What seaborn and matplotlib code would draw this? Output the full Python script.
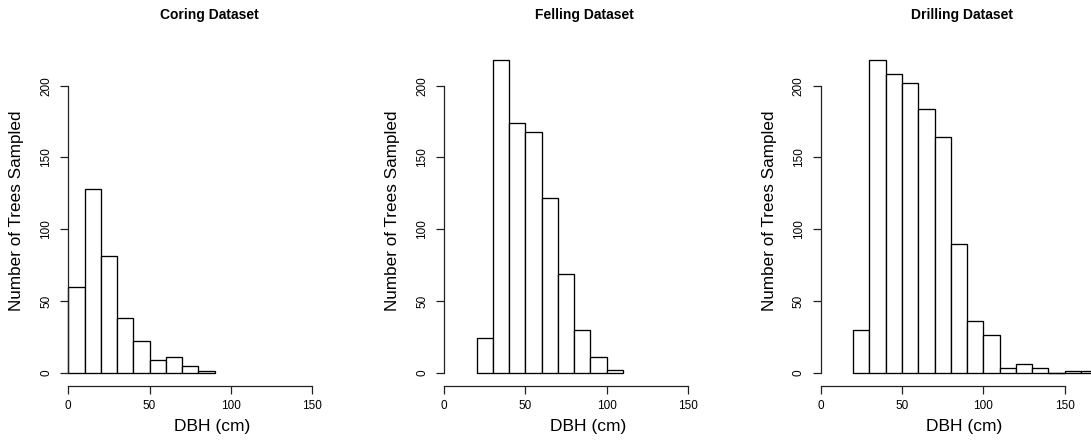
import numpy as np
import pandas as pd
import matplotlib
matplotlib.use("Agg")
import matplotlib.pyplot as plt
import seaborn as sns

# ---- data ----
BIN_WIDTH = 10
titles = ["Coring Dataset", "Felling Dataset", "Drilling Dataset"]

coring_left = [0, 10, 20, 30, 40, 50, 60, 70, 80]
coring_counts = [60, 128, 81, 38, 22, 9, 11, 5, 1]

felling_left = [20, 30, 40, 50, 60, 70, 80, 90, 100]
felling_counts = [24, 218, 174, 168, 122, 69, 30, 11, 2]

drilling_left = [20, 30, 40, 50, 60, 70, 80, 90, 100, 110, 120, 130, 140, 150, 160]
drilling_counts = [30, 218, 208, 202, 184, 164, 90, 36, 26, 3, 6, 3, 0, 1, 1]

x_ticks = [0, 50, 100, 150]
y_ticks = [0, 50, 100, 150, 200]
x_label = "DBH (cm)"
y_label = "Number of Trees Sampled"

sns.set_style("ticks")
plt.rcParams["font.family"] = ["Liberation Sans", "DejaVu Sans"]
plt.rcParams["text.color"] = "black"

W, H = 1091, 448
fig = plt.figure(figsize=(W / 100, H / 100), dpi=100)

# pixel geometry of each panel
x0_px = [68.3, 444.0, 820.7]
px_per_x = 1.626
px_per_y = 1.435
y0_px = 372.7
axis_px = 385.7
top_px = 35.0
xmax = 177.0

ymin = -(axis_px - y0_px) / px_per_y
ymax = (y0_px - top_px) / px_per_y

panels = [
    (coring_left, coring_counts),
    (felling_left, felling_counts),
    (drilling_left, drilling_counts),
]

for i, (lefts, counts) in enumerate(panels):
    width_px = xmax * px_per_x
    height_px = axis_px - top_px
    ax = fig.add_axes([x0_px[i] / W, (H - axis_px) / H, width_px / W, height_px / H])
    lefts_arr = np.asarray(lefts, dtype=float)
    df = pd.DataFrame({"center": lefts_arr + BIN_WIDTH / 2,
                       "count": np.asarray(counts, dtype=float)})
    lo = float(lefts_arr[0])
    hi = float(lefts_arr[-1] + BIN_WIDTH)
    sns.histplot(data=df, x="center", weights="count",
                 binwidth=BIN_WIDTH, binrange=(lo, hi), ax=ax,
                 color="white", edgecolor="black", linewidth=0.95,
                 alpha=1, stat="count")
    for p in list(ax.patches):
        p.set_clip_on(False)
        if p.get_height() == 0:
            # R draws empty bins as a flat line on the baseline
            ax.plot([p.get_x(), p.get_x() + p.get_width()],
                    [p.get_y(), p.get_y()], color="black", lw=0.95,
                    clip_on=False, solid_capstyle="butt")
    ax.set_xlim(0, xmax)
    ax.set_ylim(ymin, ymax)
    ax.set_xticks(x_ticks)
    ax.set_yticks(y_ticks)
    ax.set_xticklabels([str(t) for t in x_ticks])
    ax.set_yticklabels([str(t) for t in y_ticks], rotation=90, va="center")
    for side in ["top", "right"]:
        ax.spines[side].set_visible(False)
    ax.spines["bottom"].set_bounds(0, 150)
    ax.spines["left"].set_bounds(0, 200)
    for side in ["bottom", "left"]:
        ax.spines[side].set_linewidth(0.9)
        ax.spines[side].set_color("#222222")
    ax.tick_params(axis="both", length=5.5, width=0.9, color="#222222",
                   labelsize=8.5, labelcolor="black")
    ax.tick_params(axis="x", pad=5)
    ax.tick_params(axis="y", pad=6)
    ax.set_xlabel("")
    ax.set_ylabel("")
    ax.annotate(x_label, xy=(0.5, 0), xycoords="axes fraction",
                xytext=(0, -41.3), textcoords="offset pixels",
                ha="center", va="center", fontsize=12.5, color="black")
    ax.annotate(y_label, xy=(0, 0.5), xycoords="axes fraction",
                xytext=(-51.5, 0), textcoords="offset pixels",
                ha="center", va="center", rotation=90, fontsize=12.3,
                color="black")
    ax.annotate(titles[i], xy=(0.5, 1), xycoords="axes fraction",
                xytext=(-3, 20), textcoords="offset pixels",
                ha="center", va="center", fontsize=10, fontweight="bold",
                color="black")
    ax.set_facecolor("white")

fig.savefig("out.png", dpi=100, facecolor="white")
